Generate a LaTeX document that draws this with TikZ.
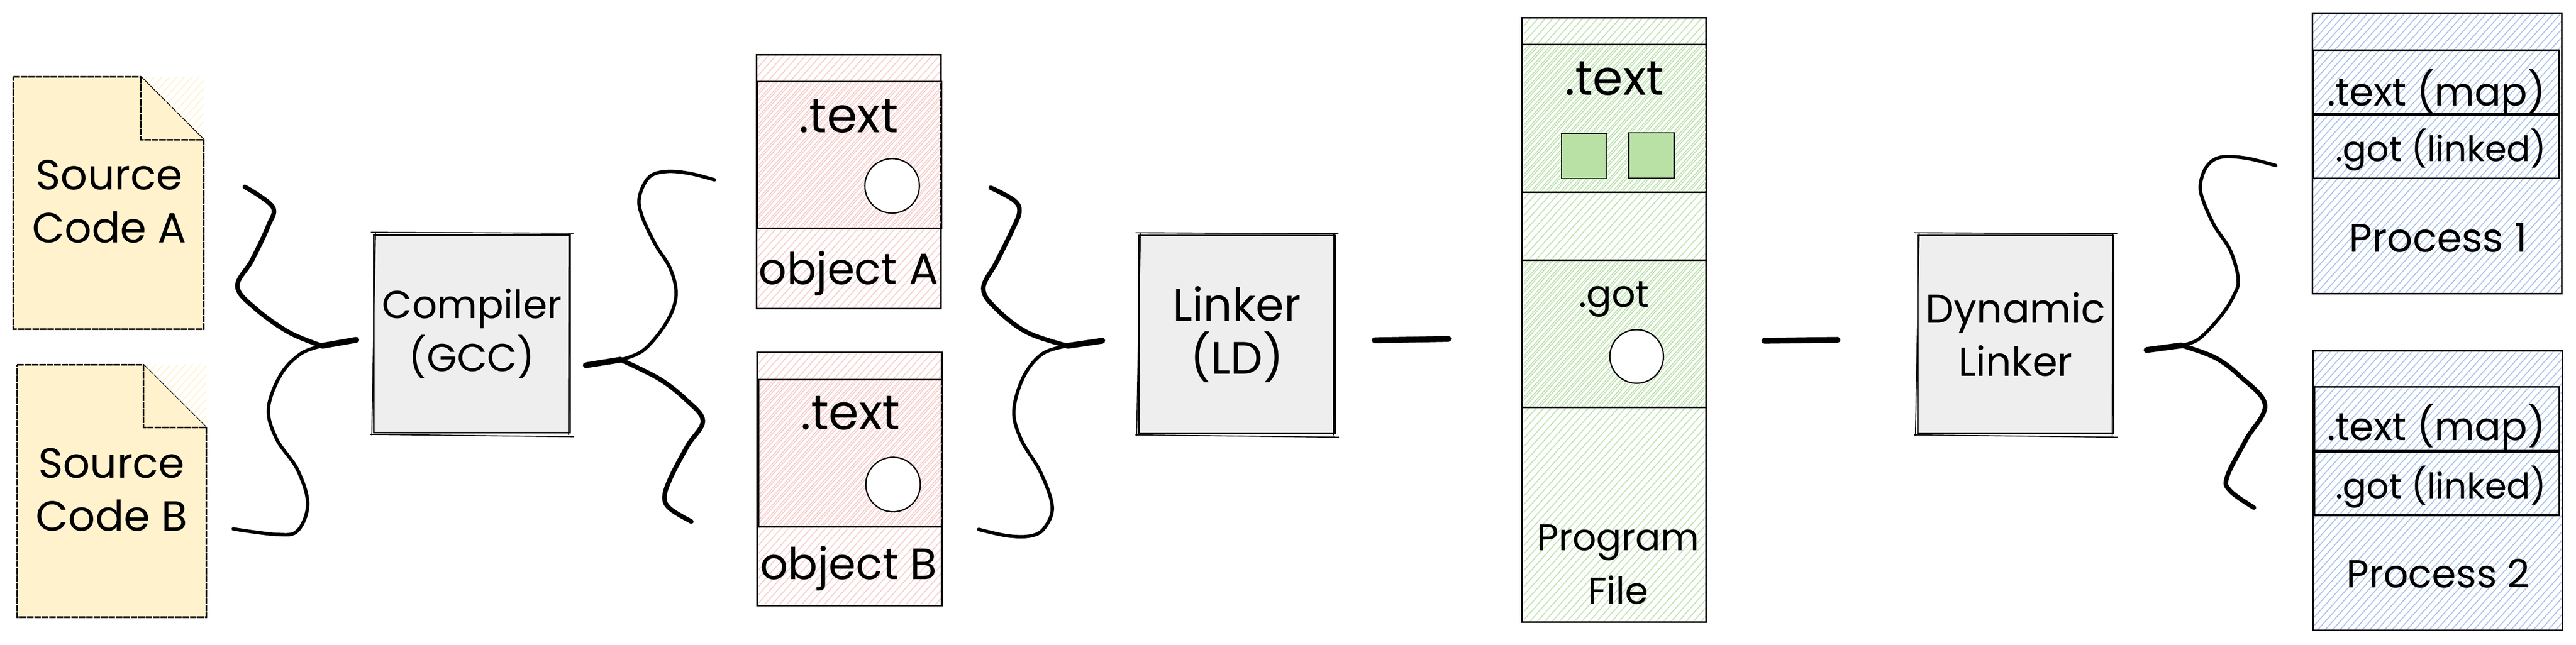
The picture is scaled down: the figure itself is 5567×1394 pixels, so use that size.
\documentclass[tikz,border=0pt]{standalone}
\usepackage{fontspec}
\setmainfont{Poppins}
\usetikzlibrary{patterns.meta}

\definecolor{notefill}{HTML}{FFF2CC}
\definecolor{gearfill}{HTML}{EEEEEE}
\definecolor{hatchpink}{HTML}{F8CECC}
\definecolor{hatchgreen}{HTML}{BFE3B0}
\definecolor{hatchblue}{HTML}{A9C4EB}
\definecolor{solidgreen}{HTML}{B9E0A5}

\tikzset{
  hatchbox/.style={draw,line width=.5pt,pattern={Lines[angle=48,distance=1.7pt,line width=.3pt]},pattern color=#1},
  hatchinner/.style={draw,line width=.5pt,pattern={Lines[angle=48,distance=1.7pt,line width=.3pt,xshift=.8pt]},pattern color=#1},
  plainbox/.style={draw,line width=.5pt},
  gearbox/.style={draw,line width=.5pt,fill=gearfill,align=center,font=\fontsize{#1}{16.4}\selectfont,minimum width=2.12cm,minimum height=2.14cm,inner sep=0pt},
  notebox/.style={fill=notefill,draw,line width=.5pt,dash pattern=on 2pt off .28pt},
  holecircle/.style={circle,draw,line width=.4pt,fill=white,minimum size=.59cm,inner sep=0pt},
  plugbox/.style={draw,line width=.35pt,fill=solidgreen,minimum size=.49cm,inner sep=0pt},
  lbl/.style={font=\fontsize{#1}{16.4}\selectfont,align=center,inner sep=0pt},
  lbl/.default=13,
  roughline/.style={line width=.3pt},
  curl/.style={line width=1.05pt,line cap=round,line join=round},
  curlheavy/.style={line width=1.4pt,line cap=round,line join=round},
  curltip/.style={line width=1.8pt,line cap=round}
}

\newcommand{\roughedge}[1]{
  \draw[roughline] ([shift={(-5,-4)}]#1.north west) -- ([shift={(6,-2)}]#1.north east);
  \draw[roughline] ([shift={(5,-3)}]#1.north west) -- ([shift={(-3,4)}]#1.south west);
  \draw[roughline] ([shift={(-6,2)}]#1.south west) -- ([shift={(7,7)}]#1.south east);
  \draw[roughline] ([shift={(-4,-2)}]#1.north east) -- ([shift={(-5,3)}]#1.south east);
}

\begin{document}
\begin{tikzpicture}[x=0.005cm,y=-0.005cm]
    \useasboundingbox (0,0) rectangle (5567,1394);

    \path[pattern={Lines[angle=48,distance=1.7pt,line width=.3pt]},pattern color=notefill] (304,166) rectangle (440,302);
    \draw[notebox] (29,166) -- (304,166) -- (440,302) -- (440,712) -- (29,712) -- cycle;
    \draw[notebox] (304,166) -- (304,302) -- (440,302);
    \node[lbl] (sourceA) at (236,436) {Source\\Code A};
    \path[pattern={Lines[angle=48,distance=1.7pt,line width=.3pt]},pattern color=notefill] (310,789) rectangle (446,925);
    \draw[notebox] (37,789) -- (310,789) -- (446,925) -- (446,1335) -- (37,1335) -- cycle;
    \draw[notebox] (310,789) -- (310,925) -- (446,925);
    \node[lbl] (sourceB) at (241,1059) {Source\\Code B};

    \node[gearbox=12] (compiler) at (1020,722) {Compiler\\(GCC)};
    \roughedge{compiler}
    \node[gearbox=14] (linker) at (2673,723) {Linker\\(LD)};
    \roughedge{linker}
    \node[gearbox=12.4] (dynlinker) at (4356,723) {Dynamic\\Linker};
    \roughedge{dynlinker}

    \node[hatchbox=hatchpink,minimum width=1.995cm,minimum height=2.75cm] (objA) at (1834,393) {};
    \node[hatchinner=hatchpink,minimum width=1.99cm,minimum height=1.59cm] (objAtext) at (1836,335) {};
    \node[holecircle] (objAhole) at (1928,402) {};
    \node[lbl=15] (objAdot) at (1834,251) {.text};
    \node[lbl=13.5] (objAname) at (1834,591) {object A};

    \node[hatchbox=hatchpink,minimum width=1.995cm,minimum height=2.74cm] (objB) at (1836,1036) {};
    \node[hatchinner=hatchpink,minimum width=1.99cm,minimum height=1.595cm] (objBtext) at (1838,980) {};
    \node[holecircle] (objBhole) at (1930,1048) {};
    \node[lbl=15] (objBdot) at (1838,893) {.text};
    \node[lbl=13.5] (objBname) at (1834,1229) {object B};

    \node[hatchbox=hatchgreen,minimum width=1.992cm,minimum height=6.54cm] (prog) at (3488,692) {};
    \node[hatchinner=hatchgreen,minimum width=1.995cm,minimum height=1.6cm] (progtext) at (3489,256) {};
    \node[hatchinner=hatchgreen,minimum width=1.992cm,minimum height=1.593cm] (proggot) at (3488,722) {};
    \node[plugbox] (plugA) at (3424,337) {};
    \node[plugbox] (plugB) at (3569,336) {};
    \node[holecircle,minimum size=.58cm] (proghole) at (3537,771) {};
    \node[lbl=15] (progdot) at (3489,170) {.text};
    \node[lbl=11.5] (proggotname) at (3488,647) {.got};
    \node[lbl=11.5] (progname) at (3497,1221) {Program\\File};

    \node[hatchbox=hatchblue,minimum width=2.695cm,minimum height=3.035cm] (procA) at (5267,332) {};
    \node[plainbox,minimum width=2.655cm,minimum height=.69cm] (procAtext) at (5265,177) {};
    \node[plainbox,minimum width=2.655cm,minimum height=.685cm] (procAgot) at (5265,317) {};
    \node[lbl=12] (procAdot) at (5265,200) {.text (map)};
    \node[lbl=10.8] (procAgotname) at (5275,324) {.got (linked)};
    \node[lbl=12.3] (procAname) at (5269,514) {Process 1};

    \node[hatchbox=hatchblue,minimum width=2.695cm,minimum height=3.025cm] (procB) at (5268,1061) {};
    \node[plainbox,minimum width=2.65cm,minimum height=.69cm] (procBtext) at (5266,906) {};
    \node[plainbox,minimum width=2.65cm,minimum height=.685cm] (procBgot) at (5266,1046) {};
    \node[lbl=12] (procBdot) at (5265,924) {.text (map)};
    \node[lbl=10.8] (procBgotname) at (5275,1053) {.got (linked)};
    \node[lbl=12] (procBname) at (5269,1240) {Process 2};

    \coordinate (hubA) at (696,748);
    \coordinate (tipA) at (770,735);
    \coordinate (endAup) at (529,404);
    \coordinate (endAdown) at (504,1144);
    \draw[curlheavy] plot[smooth,tension=.6] coordinates {(endAup) (589,447) (580,488) (545,562) (513,620) (554,669) (625,719) (hubA)};
    \draw[curl] plot[smooth,tension=.6] coordinates {(endAdown) (598,1156) (643,1148) (665,1090) (643,1016) (598,950) (580,884) (607,810) (650,765) (hubA)};
    \draw[curltip] (hubA) -- (tipA);

    \coordinate (hubB) at (1341,778);
    \coordinate (tipB) at (1266,790);
    \coordinate (endBup) at (1544,389);
    \coordinate (endBdown) at (1494,1128);
    \draw[curl] plot[smooth,tension=.6] coordinates {(hubB) (1391,757) (1440,698) (1461,640) (1449,582) (1416,528) (1387,466) (1382,425) (1403,383) (1440,371) (1490,375) (endBup)};
    \draw[curlheavy] plot[smooth,tension=.6] coordinates {(hubB) (1424,819) (1482,864) (1519,910) (1486,964) (1449,1034) (1436,1076) (1449,1101) (endBdown)};
    \draw[curltip] (hubB) -- (tipB);

    \coordinate (hubC) at (2307,748);
    \coordinate (tipC) at (2382,737);
    \coordinate (endCup) at (2141,406);
    \coordinate (endCdown) at (2115,1145);
    \draw[curlheavy] plot[smooth,tension=.6] coordinates {(endCup) (2191,433) (2203,458) (2187,499) (2154,566) (2125,624) (2154,669) (2220,719) (hubC)};
    \draw[curl] plot[smooth,tension=.6] coordinates {(endCdown) (2178,1159) (2228,1159) (2257,1142) (2274,1096) (2249,1022) (2207,951) (2191,889) (2212,815) (2253,765) (hubC)};
    \draw[curltip] (hubC) -- (tipC);

    \coordinate (hubD) at (4714,747);
    \coordinate (tipD) at (4639,757);
    \coordinate (endDup) at (4918,358);
    \coordinate (endDdown) at (4871,1098);
    \draw[curl] plot[smooth,tension=.6] coordinates {(hubD) (4752,733) (4799,684) (4827,640) (4837,604) (4820,542) (4786,489) (4762,436) (4755,400) (4769,360) (4799,340) (4854,342) (endDup)};
    \draw[curlheavy] plot[smooth,tension=.6] coordinates {(hubD) (4786,773) (4840,813) (4895,876) (4854,951) (4813,1031) (4820,1062) (endDdown)};
    \draw[curltip] (hubD) -- (tipD);

    \coordinate (linkAfrom) at (2971,736);
    \coordinate (linkAto) at (3130,733);
    \coordinate (linkBfrom) at (3813,737);
    \coordinate (linkBto) at (3971,735);
    \draw[curltip] (linkAfrom) -- (linkAto);
    \draw[curltip] (linkBfrom) -- (linkBto);
\end{tikzpicture}
\end{document}
